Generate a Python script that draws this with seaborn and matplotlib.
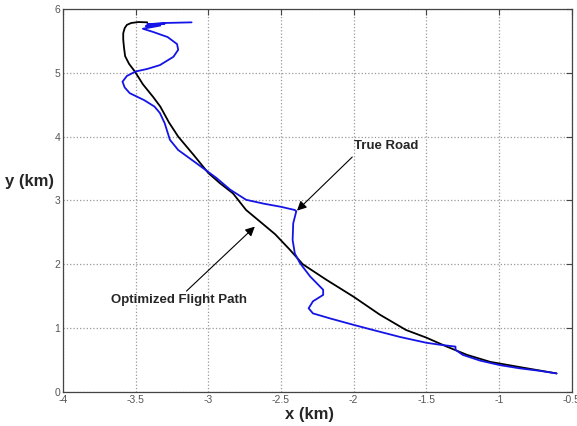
import numpy as np
import pandas as pd
import matplotlib
matplotlib.use('Agg')
import matplotlib.pyplot as plt
import seaborn as sns

# true road (blue)
road_x = [-3.115, -3.30, -3.42, -3.30, -3.43, -3.33, -3.45, -3.38, -3.28, -3.215, -3.207,
          -3.24, -3.333, -3.42, -3.50, -3.56, -3.59, -3.575, -3.54, -3.44, -3.37, -3.333,
          -3.30, -3.264, -3.207, -3.08, -2.943, -2.85, -2.74, -2.62, -2.50, -2.405, -2.395,
          -2.416, -2.42, -2.405, -2.37, -2.30, -2.21, -2.21, -2.28, -2.31, -2.28, -2.16,
          -2.00, -1.85, -1.68, -1.50, -1.41, -1.30, -1.30, -1.25, -1.13, -0.995, -0.86,
          -0.72, -0.605]
road_y = [5.79, 5.78, 5.76, 5.77, 5.73, 5.74, 5.69, 5.64, 5.56, 5.45, 5.36,
          5.25, 5.12, 5.06, 5.02, 4.95, 4.86, 4.77, 4.68, 4.57, 4.47, 4.37,
          4.21, 3.95, 3.79, 3.58, 3.35, 3.17, 3.01, 2.95, 2.90, 2.85, 2.83,
          2.64, 2.38, 2.17, 2.02, 1.81, 1.60, 1.52, 1.42, 1.31, 1.23, 1.15,
          1.05, 0.96, 0.86, 0.77, 0.74, 0.71, 0.66, 0.58, 0.49, 0.42, 0.37,
          0.33, 0.29]

# optimized flight path (black)
path_x = [-3.42, -3.48, -3.53, -3.56, -3.575, -3.585, -3.585, -3.58, -3.572, -3.545, -3.505,
          -3.45, -3.379, -3.33, -3.27, -3.207, -3.10, -3.00, -2.92, -2.83, -2.74, -2.645,
          -2.54, -2.44, -2.35, -2.19, -2.00, -1.82, -1.64, -1.50, -1.36, -1.22, -1.06,
          -0.86, -0.605]
path_y = [5.79, 5.795, 5.78, 5.75, 5.70, 5.62, 5.52, 5.40, 5.26, 5.14, 5.02,
          4.82, 4.62, 4.47, 4.22, 4.00, 3.71, 3.43, 3.27, 3.11, 2.85, 2.67,
          2.47, 2.23, 2.00, 1.76, 1.49, 1.21, 0.97, 0.85, 0.71, 0.58, 0.47,
          0.39, 0.29]

x_ticks = [-4, -3.5, -3, -2.5, -2, -1.5, -1, -0.5]
x_labels = ['-4', '-3.5', '-3', '-2.5', '-2', '-1.5', '-1', '-0.5']
y_ticks = [0, 1, 2, 3, 4, 5, 6]

road = pd.DataFrame({'x': road_x, 'y': road_y})
path = pd.DataFrame({'x': path_x, 'y': path_y})

sns.set_style('white')
plt.rcParams['font.family'] = ['Liberation Sans', 'DejaVu Sans']
plt.rcParams['axes.unicode_minus'] = False

fig = plt.figure(figsize=(5.77, 4.26), dpi=100)
ax = fig.add_axes([0.109, 0.080, 0.882, 0.899])

sns.lineplot(data=path, x='x', y='y', sort=False, estimator=None, color='black', lw=1.3, ax=ax)
sns.lineplot(data=road, x='x', y='y', sort=False, estimator=None, color='#1414e6', lw=1.3, ax=ax)

ax.set_xlim(-4, -0.5)
ax.set_ylim(0, 6)
ax.set_xticks(x_ticks)
ax.set_xticklabels(x_labels)
ax.set_yticks(y_ticks)
ax.grid(True, linestyle=':', color='#999999', lw=0.9)
for s in ax.spines.values():
    s.set_color('#444444')
    s.set_linewidth(0.9)
ax.tick_params(direction='in', length=4, top=True, right=True, labelsize=7.5,
               labelcolor='#555555', color='#444444', pad=2)

ax.set_xlabel('x (km)', fontsize=12, fontweight='bold', labelpad=2)
ax.set_ylabel('y (km)', fontsize=12, fontweight='bold', rotation=0, labelpad=10)
ax.yaxis.set_label_coords(-0.065, 0.53)
ax.xaxis.set_label_coords(0.485, -0.04)

arrow = dict(arrowstyle='-|>', color='black', lw=0.8, mutation_scale=14, shrinkA=0, shrinkB=0)
ax.text(-2.0, 3.86, 'True Road', fontsize=9.5, fontweight='bold', ha='left', va='center')
ax.annotate('', xy=(-2.39, 2.84), xytext=(-2.01, 3.68), arrowprops=arrow)
ax.text(-3.20, 1.44, 'Optimized Flight Path', fontsize=9.5, fontweight='bold',
        ha='center', va='center')
ax.annotate('', xy=(-2.68, 2.59), xytext=(-3.15, 1.58), arrowprops=arrow)

fig.savefig('out.png', dpi=100)
